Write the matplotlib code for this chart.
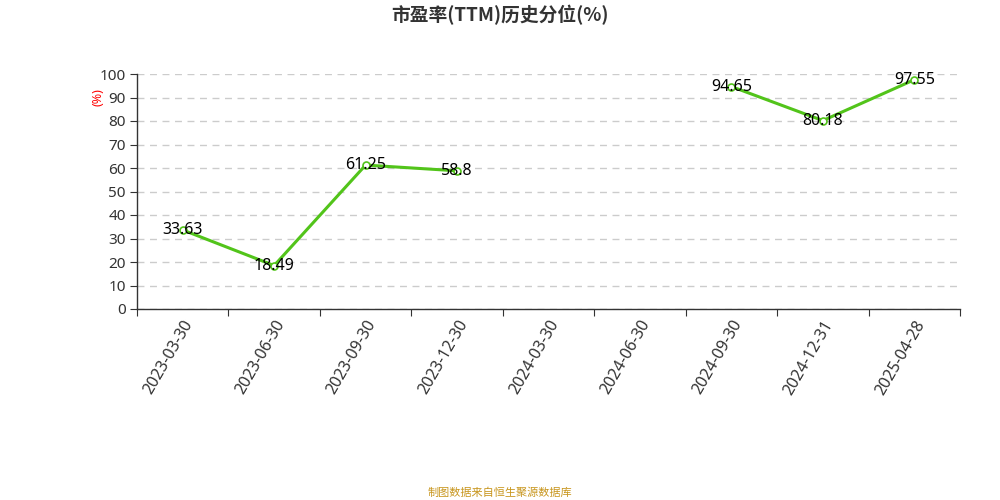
import matplotlib
matplotlib.use("Agg")
import matplotlib.pyplot as plt
import numpy as np

plt.rcParams['font.family'] = ['Noto Sans', 'Noto Sans CJK SC', 'DejaVu Sans']

categories = ["2023-03-30", "2023-06-30", "2023-09-30", "2023-12-30", "2024-03-30",
              "2024-06-30", "2024-09-30", "2024-12-31", "2025-04-28"]
values = [33.63, 18.49, 61.25, 58.8, None, None, 94.65, 80.18, 97.55]
labels = ["33.63", "18.49", "61.25", "58.8", "", "", "94.65", "80.18", "97.55"]
yticks = [0, 10, 20, 30, 40, 50, 60, 70, 80, 90, 100]

fig = plt.figure(figsize=(10, 5), dpi=100)
ax = fig.add_axes([0.137, 0.382, 0.823, 0.47])

x = np.arange(len(categories))
y = np.array([np.nan if v is None else v for v in values], dtype=float)
green = "#52c41a"
ax.plot(x, y, color=green, lw=2.2, marker='o', markersize=5,
        markerfacecolor='white', markeredgecolor=green, markeredgewidth=1.2, zorder=3)
for xi, yi, lab in zip(x, y, labels):
    if not np.isnan(yi):
        ax.text(xi, yi, lab, ha='center', va='center', fontsize=11.5, color='#000000', zorder=4)

ax.set_xlim(-0.5, len(categories) - 0.5)
ax.set_ylim(0, 100)
ax.set_yticks(yticks)
ax.set_yticklabels([str(t) for t in yticks], fontsize=11, color='#333333')
ax.set_xticks(np.arange(len(categories) + 1) - 0.5, minor=False)
ax.set_xticklabels([])
ax.set_xticks(x, minor=True)
ax.set_xticklabels(categories, minor=True, rotation=60, ha='right', va='top',
                   rotation_mode='anchor', fontsize=11.5, color='#333333')
ax.tick_params(axis='x', which='minor', length=0, pad=6)
ax.tick_params(axis='x', which='major', length=5, color='#333333')
ax.tick_params(axis='y', length=5, color='#333333', pad=3)

ax.grid(axis='y', color='#cccccc', linestyle=(0, (5, 4)), lw=1)
ax.set_axisbelow(True)
for s in ['top', 'right']:
    ax.spines[s].set_visible(False)
for s in ['left', 'bottom']:
    ax.spines[s].set_color('#333333')
    ax.spines[s].set_linewidth(1)

fig.text(0.098, 0.805, "(%)", rotation=90, color='red', fontsize=9, ha='center', va='center')
fig.text(0.5, 0.97, "市盈率(TTM)历史分位(%)", ha='center', va='center', fontsize=13.5,
         fontweight='bold', color='#333333', family=['Noto Sans CJK SC', 'DejaVu Sans'])
fig.text(0.5, 0.014, "制图数据来自恒生聚源数据库", ha='center', va='center', fontsize=8,
         color='#c8961e', family=['Noto Sans CJK SC', 'DejaVu Sans'])

fig.savefig("out.png", dpi=100)
